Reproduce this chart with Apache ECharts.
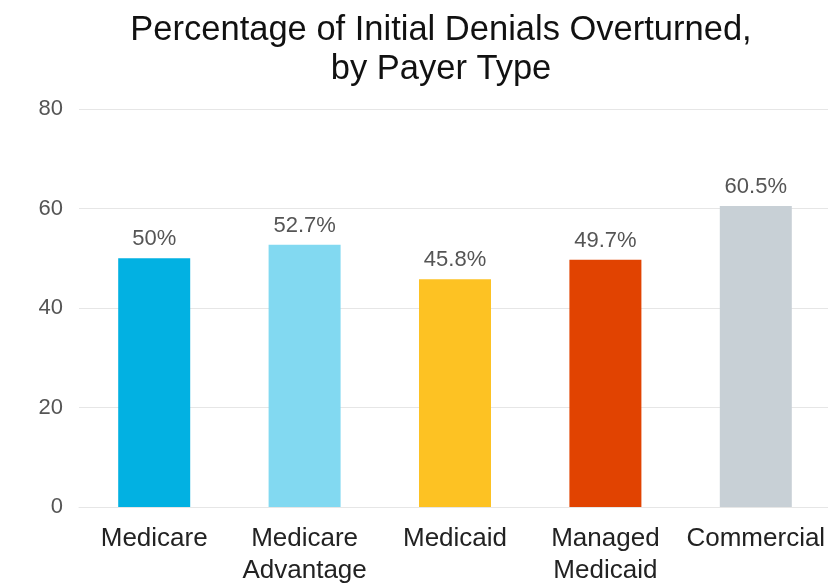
<!DOCTYPE html>
<html><head><meta charset="utf-8">
<script src="https://cdn.jsdelivr.net/npm/echarts@6/dist/echarts.min.js"></script>
<style>html,body{margin:0;padding:0;background:#fff}#c{width:828px;height:584px}</style>
</head><body><div id="c"></div>
<script>
const categories = ['Medicare', 'Medicare\nAdvantage', 'Medicaid', 'Managed\nMedicaid', 'Commercial'];
const values = [50, 52.7, 45.8, 49.7, 60.5];
const valueLabels = ['50%', '52.7%', '45.8%', '49.7%', '60.5%'];
const colors = ['#02b1e2', '#82d9f1', '#fdc223', '#e14301', '#c8d0d6'];
const yTicks = [0, 20, 40, 60, 80];

const chart = echarts.init(document.getElementById('c'));
chart.setOption({
  animation: false,
  title: {
    text: 'Percentage of Initial Denials Overturned,\nby Payer Type',
    left: 436, top: 6, textAlign: 'center',
    textStyle: { fontFamily: 'Liberation Sans', fontSize: 34.5, fontWeight: 'normal', color: '#111', lineHeight: 39 }
  },
  grid: { left: 79, right: -3, top: 109, bottom: 77, containLabel: false, outerBoundsMode: 'none' },
  xAxis: {
    type: 'category', data: categories,
    axisLine: { lineStyle: { color: '#e6e6e6', width: 1 } },
    axisTick: { show: false },
    axisLabel: { fontFamily: 'Liberation Sans', fontSize: 26, color: '#222', lineHeight: 32, margin: 16, interval: 0 }
  },
  yAxis: {
    type: 'value', min: yTicks[0], max: yTicks[yTicks.length - 1], interval: 20,
    axisLine: { show: false }, axisTick: { show: false },
    splitLine: { lineStyle: { color: '#e6e6e6', width: 1 } },
    axisLabel: { fontFamily: 'Liberation Sans', fontSize: 22, color: '#555', margin: 16 }
  },
  series: [{
    type: 'bar', barWidth: 72,
    data: values.map((v, i) => ({ value: v, itemStyle: { color: colors[i] } })),
    label: {
      show: true, position: 'top', distance: 8,
      fontFamily: 'Liberation Sans', fontSize: 22, color: '#555',
      formatter: p => valueLabels[p.dataIndex]
    }
  }]
});
</script></body></html>
